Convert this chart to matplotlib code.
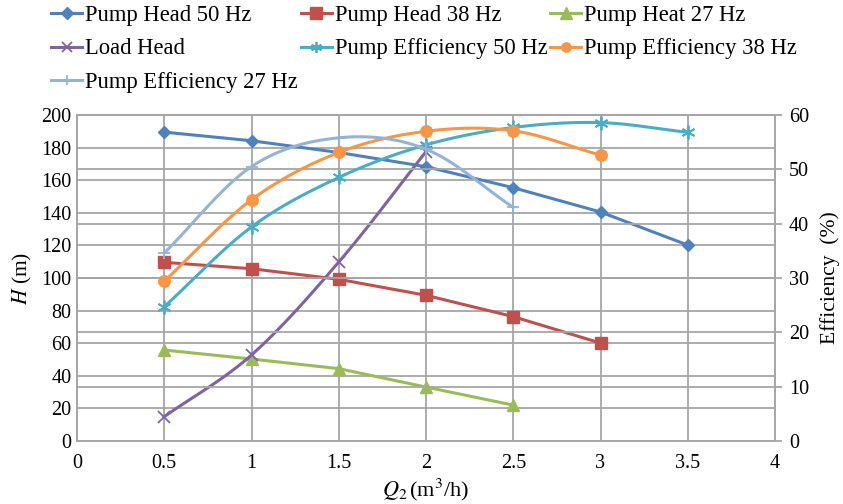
import numpy as np
import matplotlib
matplotlib.use("Agg")
import matplotlib.pyplot as plt
from matplotlib.ticker import MultipleLocator

plt.rcParams['font.family'] = ['Liberation Serif', 'DejaVu Serif']
plt.rcParams['mathtext.fontset'] = 'stix'

x_all = [0.5, 1.0, 1.5, 2.0, 2.5, 3.0, 3.5]
head_50 = [189.5, 184.2, 177.0, 168.3, 155.4, 140.5, 120.2]
head_38 = [109.6, 105.7, 99.2, 89.4, 76.3, 60.1]
head_27 = [55.8, 50.3, 44.4, 33.1, 22.0]
load_head = [14.9, 52.8, 109.8, 177.5]
eff_50 = [24.7, 39.4, 48.5, 54.5, 57.7, 58.6, 56.8]
eff_38 = [29.4, 44.4, 53.1, 57.0, 57.1, 52.6]
eff_27 = [34.6, 50.5, 55.8, 53.7, 43.0]

labels = ["Pump Head 50 Hz", "Pump Head 38 Hz", "Pump Heat 27 Hz", "Load Head",
          "Pump Efficiency 50 Hz", "Pump Efficiency 38 Hz", "Pump Efficiency 27 Hz"]
colors = ["#4F81BD", "#C0504D", "#9BBB59", "#8064A2", "#4BACC6", "#F79646", "#95B3D7"]


def smooth(xs, ys, n=30):
    xs = np.asarray(xs, float)
    ys = np.asarray(ys, float)
    P = np.column_stack([xs, ys])
    if len(P) < 3:
        return xs, ys
    ext = np.vstack([P[0] - (P[1] - P[0]), P, P[-1] + (P[-1] - P[-2])])
    out = []
    for i in range(1, len(ext) - 2):
        p0, p1, p2, p3 = ext[i - 1], ext[i], ext[i + 1], ext[i + 2]
        c1 = p1 + (p2 - p0) / 6.0
        c2 = p2 - (p3 - p1) / 6.0
        t = np.linspace(0, 1, n)[:, None]
        seg = ((1 - t) ** 3) * p1 + 3 * ((1 - t) ** 2) * t * c1 + 3 * (1 - t) * t ** 2 * c2 + t ** 3 * p2
        if i > 1:
            seg = seg[1:]
        out.append(seg)
    out = np.vstack(out)
    return out[:, 0], out[:, 1]


fig = plt.figure(figsize=(8.43, 5.04), dpi=100)
ax = fig.add_axes([77 / 843, 1 - 441 / 504, (775 - 77) / 843, (441 - 115) / 504])
ax2 = ax.twinx()

grid_c = "#A6A6A6"
ax.set_xlim(0, 4)
ax.set_ylim(0, 200)
ax2.set_ylim(0, 60)
ax.yaxis.set_major_locator(MultipleLocator(20))
ax2.yaxis.set_major_locator(MultipleLocator(10))
ax.set_xticks([0, 0.5, 1, 1.5, 2, 2.5, 3, 3.5, 4])
ax.set_xticklabels(["0", "0.5", "1", "1.5", "2", "2.5", "3", "3.5", "4"])

# gridlines
for v in np.arange(20, 201, 20):
    ax.axhline(v, color=grid_c, lw=1.3, zorder=0)
for v in np.arange(10, 60, 10):
    ax2.axhline(v, color=grid_c, lw=1.3, zorder=0)
for v in np.arange(0.5, 4, 0.5):
    ax.axvline(v, color=grid_c, lw=1.3, zorder=0)

for a in (ax, ax2):
    for s in a.spines.values():
        s.set_color(grid_c)
        s.set_linewidth(1.3)

ax.tick_params(axis='y', length=0, labelsize=14.5, pad=4)
ax.tick_params(axis='x', length=0, labelsize=14.5, pad=9)
ax2.tick_params(axis='y', length=5, color=grid_c, width=1.3, labelsize=14.5, pad=5)

lw = 2.2
handles = {}
h, = ax.plot(x_all[:len(head_50)], head_50, color=colors[0], lw=lw, marker='D', ms=6)
handles[0] = h
h, = ax.plot(x_all[:len(head_38)], head_38, color=colors[1], lw=lw, marker='s', ms=8)
handles[1] = h
h, = ax.plot(x_all[:len(head_27)], head_27, color=colors[2], lw=lw, marker='^', ms=8)
handles[2] = h

sx, sy = smooth(x_all[:len(load_head)], load_head)
ax.plot(sx, sy, color=colors[3], lw=lw)
ax.plot(x_all[:len(load_head)], load_head, ls='none', color=colors[3], marker='x', ms=8, mew=1.3)
handles[3] = plt.Line2D([], [], color=colors[3], lw=lw, marker='x', ms=7, mew=1.3)

for k, ser, mk, ms in [(4, eff_50, (6, 2, 0), 10), (5, eff_38, 'o', 8), (6, eff_27, '+', 9)]:
    xs = x_all[:len(ser)]
    sx, sy = smooth(xs, ser)
    ax2.plot(sx, sy, color=colors[k], lw=lw)
    ax2.plot(xs, ser, ls='none', color=colors[k], marker=mk, ms=ms, mew=1.3)
    handles[k] = plt.Line2D([], [], color=colors[k], lw=lw, marker=mk, ms=ms * 0.8, mew=1.3)

ax.set_ylabel(r"$H$ (m)", fontsize=15.5, labelpad=5)
ax2.set_ylabel("Efficiency  (%)", fontsize=15.5, labelpad=8)
ax.set_xlabel(r"$Q_2\,$(m$^3$/h)", fontsize=16, labelpad=3)

order = [0, 3, 6, 1, 4, 2, 5]
fig.legend([handles[i] for i in order], [labels[i] for i in order],
           ncol=3, loc='upper left', bbox_to_anchor=(51 / 843, 1 - 5 / 504), frameon=False,
           fontsize=16.3, columnspacing=0.13, handlelength=1.37, handletextpad=0.13,
           labelspacing=0.55, borderpad=0, borderaxespad=0)

fig.savefig("out.png", dpi=100)
